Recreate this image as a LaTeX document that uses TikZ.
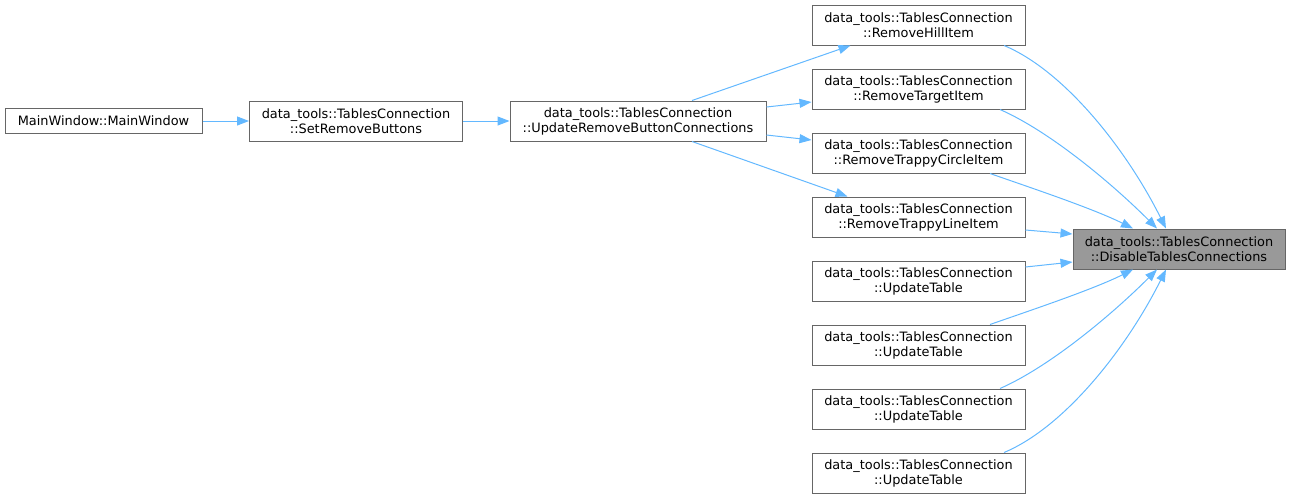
\documentclass[tikz,border=0pt]{standalone}
\usepackage{fontspec}
\setmainfont{DejaVu Sans}
\usetikzlibrary{arrows.meta}
\definecolor{edgeblue}{HTML}{63B8FF}
\definecolor{boxborder}{HTML}{666666}
\definecolor{boxgray}{HTML}{999999}
\begin{document}
\begin{tikzpicture}[x=1pt,y=-1pt,
  box/.style={draw=boxborder,line width=1pt,fill=white,inner sep=0pt,align=center,
    font=\fontsize{12.9}{15}\selectfont,minimum width=213pt,minimum height=40pt},
  edge/.style={draw=edgeblue,line width=1pt,-{Triangle[length=12pt,width=9pt]}}]
\useasboundingbox (0,0) rectangle (1291,499);
\node[box,minimum width=197pt,minimum height=25pt] (mw) at (103.5,121) {MainWindow::MainWindow};
\node[box] (srb) at (356,121) {data\_tools::TablesConnection\\::SetRemoveButtons};
\node[box,minimum width=256pt] (urbc) at (638,121) {data\_tools::TablesConnection\\::UpdateRemoveButtonConnections};
\node[box] (hill) at (918.5,25) {data\_tools::TablesConnection\\::RemoveHillItem};
\node[box] (target) at (918.5,89) {data\_tools::TablesConnection\\::RemoveTargetItem};
\node[box] (circle) at (918.5,153) {data\_tools::TablesConnection\\::RemoveTrappyCircleItem};
\node[box] (line) at (918.5,217) {data\_tools::TablesConnection\\::RemoveTrappyLineItem};
\node[box] (ut1) at (918.5,281) {data\_tools::TablesConnection\\::UpdateTable};
\node[box] (ut2) at (918.5,345) {data\_tools::TablesConnection\\::UpdateTable};
\node[box] (ut3) at (918.5,409) {data\_tools::TablesConnection\\::UpdateTable};
\node[box] (ut4) at (918.5,473) {data\_tools::TablesConnection\\::UpdateTable};
\node[box,fill=boxgray,minimum width=212pt] (dis) at (1179,249) {data\_tools::TablesConnection\\::DisableTablesConnections};
% left edges
\draw[edge] (mw.east) -- (srb.west);
\draw[edge] (srb.east) -- (urbc.west);
\draw[edge] ([xshift=54pt]urbc.north) -- ([xshift=-68pt]hill.south);
\draw[edge] ([yshift=14pt]urbc.east) -- ([yshift=-13pt]target.west);
\draw[edge] ([yshift=-14pt]urbc.east) -- ([yshift=13pt]circle.west);
\draw[edge] ([xshift=54pt]urbc.south) -- ([xshift=-71pt]line.north);
% right edges
\draw[edge] ([xshift=85.5pt]hill.south) .. controls +(60,25) and +(-40,-80) .. ([xshift=-13pt]dis.north);
\draw[edge] ([xshift=81.5pt]target.south) .. controls +(50,22) and +(-45,-45) .. ([xshift=-22pt]dis.north);
\draw[edge] ([xshift=71.5pt]circle.south) .. controls +(40,14) and +(-40,-20) .. ([xshift=-46pt]dis.north);
\draw[edge] ([yshift=-13pt]line.east) -- ([yshift=15pt]dis.west);
\draw[edge] ([yshift=14pt]ut1.east) -- ([yshift=-13pt]dis.west);
\draw[edge] ([xshift=71.5pt]ut2.north) .. controls +(40,-14) and +(-40,20) .. ([xshift=-46pt]dis.south);
\draw[edge] ([xshift=81.5pt]ut3.north) .. controls +(50,-22) and +(-45,45) .. ([xshift=-22pt]dis.south);
\draw[edge] ([xshift=85.5pt]ut4.north) .. controls +(60,-25) and +(-40,80) .. ([xshift=-13pt]dis.south);
\end{tikzpicture}
\end{document}
